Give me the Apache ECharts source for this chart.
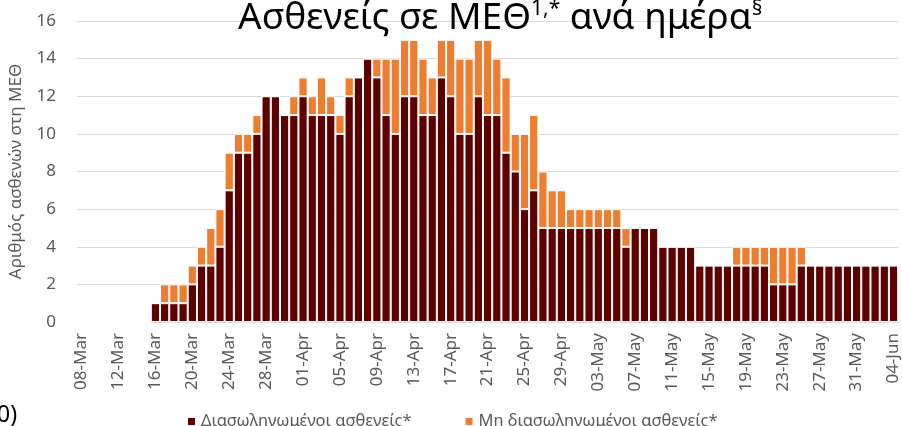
<!DOCTYPE html>
<html>
<head>
<meta charset="utf-8">
<script src="https://cdn.jsdelivr.net/npm/echarts@6/dist/echarts.min.js"></script>
<style>
  html, body { margin: 0; padding: 0; background: #fff; }
  #chart { width: 902px; height: 426px; }
</style>
</head>
<body>
<div id="chart"></div>
<script>
// daily dates, 08-Mar .. 04-Jun
var monthNames = ['Mar', 'Apr', 'May', 'Jun'];
var monthDays = [31, 30, 31, 30];
var startDay = 8;
var dayCount = 89;

// ICU patients per day (intubated / not intubated)
var intubated = [
  0, 0, 0, 0, 0, 0, 0, 0,
  1, 1, 1, 1, 2, 3, 3, 4, 7, 9, 9, 10, 12, 12, 11, 11,
  12, 11, 11, 11, 10, 12, 13, 14, 13, 11, 10, 12, 12, 11, 11, 13,
  12, 10, 10, 12, 11, 11, 9, 8, 6, 7, 5, 5, 5, 5, 5, 5,
  5, 5, 5, 4, 5, 5, 5, 4, 4, 4, 4, 3, 3, 3, 3, 3,
  3, 3, 3, 2, 2, 2, 3, 3, 3, 3, 3, 3, 3, 3, 3, 3, 3
];
var notIntubated = [
  0, 0, 0, 0, 0, 0, 0, 0,
  0, 1, 1, 1, 1, 1, 2, 2, 2, 1, 1, 1, 0, 0, 0, 1,
  1, 1, 2, 1, 1, 1, 0, 0, 1, 3, 4, 3, 3, 3, 2, 2,
  3, 4, 4, 3, 4, 3, 4, 2, 4, 4, 3, 2, 2, 1, 1, 1,
  1, 1, 1, 1, 0, 0, 0, 0, 0, 0, 0, 0, 0, 0, 0, 1,
  1, 1, 1, 2, 2, 2, 1, 0, 0, 0, 0, 0, 0, 0, 0, 0, 0
];

var categories = [];
var m = 0, d = startDay;
for (var i = 0; i < dayCount; i++) {
  categories.push((d < 10 ? '0' + d : '' + d) + '-' + monthNames[m]);
  d++;
  if (d > monthDays[m]) { d = 1; m++; }
}

var FONT = 'Noto Sans';
var chart = echarts.init(document.getElementById('chart'));
chart.setOption({
  animation: false,
  textStyle: { fontFamily: FONT },
  title: {
    text: 'Ασθενείς σε ΜΕΘ{sup|1,*} ανά ημέρα{sup|§}',
    left: 233,
    top: -6,
    textStyle: {
      fontFamily: FONT,
      fontSize: 37,
      fontWeight: 'normal',
      color: '#000',
      rich: {
        sup: { fontSize: 21, fontFamily: FONT, color: '#000', padding: [0, 0, 17, 0] }
      }
    }
  },
  legend: {
    left: 181,
    top: 408,
    itemWidth: 9,
    itemHeight: 9,
    itemGap: 52,
    icon: 'rect',
    textStyle: { color: '#595959', fontSize: 16.5, fontFamily: FONT },
    data: ['Διασωληνωμένοι ασθενείς*', 'Μη διασωληνωμένοι ασθενείς*']
  },
  graphic: [{
    type: 'text',
    left: -3,
    top: 404,
    style: { text: '0)', fontSize: 23, fill: '#000', fontFamily: FONT }
  }],
  grid: { left: 71, right: 1, top: 21, bottom: 104, containLabel: false },
  xAxis: {
    type: 'category',
    data: categories,
    axisTick: { show: false },
    axisLine: { lineStyle: { color: '#d9d9d9', width: 1 } },
    axisLabel: {
      interval: 3,
      rotate: 90,
      color: '#595959',
      fontSize: 17,
      margin: 11,
      fontFamily: FONT
    }
  },
  yAxis: {
    type: 'value',
    min: 0,
    max: 16,
    interval: 2,
    name: 'Αριθμός ασθενών στη ΜΕΘ',
    nameLocation: 'middle',
    nameGap: 52,
    nameTextStyle: { color: '#595959', fontSize: 17, fontFamily: FONT },
    axisLabel: { color: '#595959', fontSize: 17, margin: 21, fontFamily: FONT },
    axisLine: { show: false },
    axisTick: { show: false },
    splitLine: { lineStyle: { color: '#d9d9d9', width: 1 } }
  },
  series: [
    {
      name: 'Διασωληνωμένοι ασθενείς*',
      type: 'bar',
      stack: 'icu',
      barCategoryGap: '0%',
      itemStyle: { color: '#5c0000', borderColor: '#fff', borderWidth: 1 },
      data: intubated
    },
    {
      name: 'Μη διασωληνωμένοι ασθενείς*',
      type: 'bar',
      stack: 'icu',
      barCategoryGap: '0%',
      itemStyle: { color: '#ed7d31', borderColor: '#fff', borderWidth: 1 },
      data: notIntubated
    }
  ]
});
</script>
</body>
</html>
